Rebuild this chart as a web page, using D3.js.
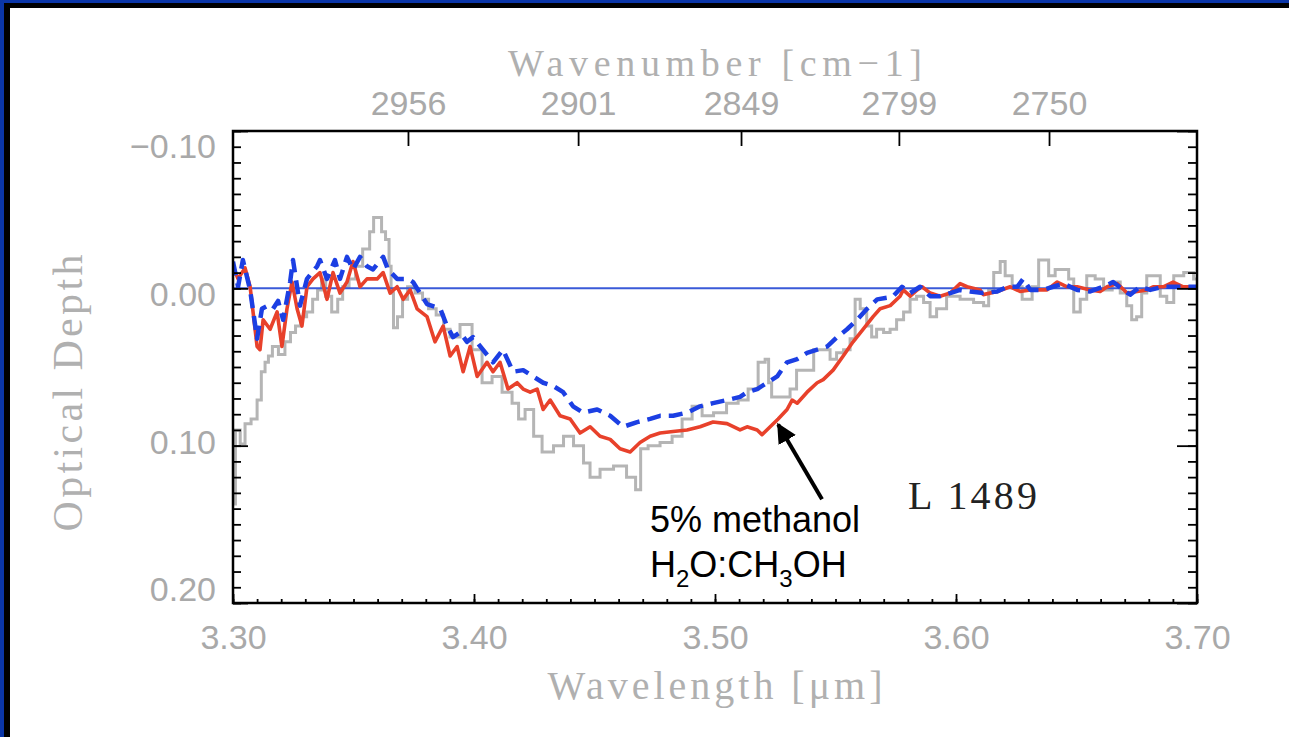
<!DOCTYPE html>
<html>
<head>
<meta charset="utf-8">
<script src="https://cdn.jsdelivr.net/npm/d3@7"></script>
<style>
  html, body { margin: 0; padding: 0; background: #fff; }
  svg { display: block; }
</style>
</head>
<body>
<div id="chart"></div>
<script>
// Observed L 1489 spectrum (grey histogram): wavelength [um], optical depth
const observed = [
  [3.3000, 0.137], [3.3020, 0.090], [3.3040, 0.099], [3.3060, 0.086], [3.3090, 0.083],
  [3.3110, 0.071], [3.3125, 0.053], [3.3141, 0.047], [3.3153, 0.043], [3.3174, 0.037],
  [3.3203, 0.042], [3.3228, 0.034], [3.3249, 0.028], [3.3270, 0.024], [3.3291, 0.018],
  [3.3320, 0.015], [3.3341, 0.007], [3.3361, 0.001], [3.3374, -0.006], [3.3395, 0.005],
  [3.3424, 0.015], [3.3445, 0.007], [3.3465, -0.001], [3.3498, -0.006], [3.3519, -0.014],
  [3.3557, -0.025], [3.3577, -0.036], [3.3590, -0.045], [3.3610, -0.045], [3.3623, -0.036],
  [3.3643, -0.031], [3.3652, -0.014], [3.3660, 0.003], [3.3672, 0.025], [3.3693, 0.018],
  [3.3714, 0.007], [3.3735, -0.001], [3.3776, 0.003], [3.3797, 0.007], [3.3826, 0.013],
  [3.3860, 0.017], [3.3888, 0.026], [3.3913, 0.031], [3.3971, 0.023], [3.4013, 0.039],
  [3.4054, 0.060], [3.4096, 0.056], [3.4137, 0.066], [3.4179, 0.073], [3.4191, 0.083],
  [3.4233, 0.077], [3.4262, 0.094], [3.4303, 0.104], [3.4357, 0.100], [3.4386, 0.094],
  [3.4440, 0.100], [3.4469, 0.111], [3.4494, 0.120], [3.4552, 0.115], [3.4606, 0.113],
  [3.4660, 0.120], [3.4681, 0.128], [3.4702, 0.102], [3.4743, 0.100], [3.4801, 0.098],
  [3.4843, 0.094], [3.4884, 0.083], [3.4926, 0.075], [3.4967, 0.081], [3.5021, 0.079],
  [3.5075, 0.073], [3.5117, 0.071], [3.5158, 0.064], [3.5200, 0.047], [3.5216, 0.045],
  [3.5229, 0.060], [3.5241, 0.069], [3.5299, 0.069], [3.5324, 0.064], [3.5353, 0.052],
  [3.5395, 0.052], [3.5424, 0.039], [3.5465, 0.039], [3.5490, 0.045], [3.5519, 0.041],
  [3.5548, 0.039], [3.5573, 0.032], [3.5590, 0.007], [3.5615, 0.013], [3.5644, 0.024],
  [3.5656, 0.031], [3.5685, 0.026], [3.5714, 0.028], [3.5739, 0.026], [3.5768, 0.020],
  [3.5797, 0.015], [3.5822, 0.007], [3.5851, 0.005], [3.5880, 0.009], [3.5905, 0.018],
  [3.5934, 0.013], [3.5988, 0.005], [3.6046, 0.007], [3.6100, 0.009], [3.6129, 0.011],
  [3.6142, 0.001], [3.6171, -0.010], [3.6196, -0.017], [3.6212, -0.008], [3.6254, -0.001],
  [3.6295, 0.007], [3.6337, -0.001], [3.6349, -0.018], [3.6378, -0.018], [3.6391, -0.008],
  [3.6432, -0.012], [3.6461, -0.012], [3.6474, -0.006], [3.6503, 0.015], [3.6528, 0.007],
  [3.6557, -0.008], [3.6598, -0.006], [3.6627, 0.001], [3.6669, -0.004], [3.6694, 0.003],
  [3.6723, 0.011], [3.6735, 0.020], [3.6764, 0.018], [3.6777, 0.003], [3.6806, -0.008],
  [3.6835, -0.008], [3.6860, 0.005], [3.6889, 0.009], [3.6918, -0.008], [3.6972, -0.010],
  [3.7000, -0.006]
];

// 5% methanol H2O:CH3OH model (red)
const methanolModel = [
  [3.3000, -0.014], [3.3021, -0.006], [3.3050, -0.013], [3.3071, -0.001], [3.3100, 0.037],
  [3.3112, 0.039], [3.3125, 0.020], [3.3154, 0.026], [3.3183, 0.015], [3.3203, 0.037],
  [3.3224, 0.013], [3.3245, -0.004], [3.3266, 0.013], [3.3286, 0.024], [3.3307, -0.001],
  [3.3332, -0.006], [3.3361, -0.010], [3.3390, 0.007], [3.3415, -0.010], [3.3444, 0.003],
  [3.3473, -0.004], [3.3498, -0.017], [3.3527, -0.001], [3.3556, -0.006], [3.3598, -0.006],
  [3.3623, -0.010], [3.3652, 0.003], [3.3681, -0.001], [3.3706, 0.007], [3.3735, 0.001],
  [3.3764, 0.013], [3.3805, 0.018], [3.3838, 0.034], [3.3872, 0.024], [3.3901, 0.043],
  [3.3930, 0.037], [3.3955, 0.053], [3.3984, 0.037], [3.4013, 0.056], [3.4054, 0.047],
  [3.4079, 0.053], [3.4108, 0.047], [3.4141, 0.064], [3.4179, 0.060], [3.4204, 0.064],
  [3.4233, 0.066], [3.4262, 0.064], [3.4287, 0.077], [3.4316, 0.071], [3.4357, 0.081],
  [3.4399, 0.083], [3.4440, 0.092], [3.4482, 0.088], [3.4523, 0.094], [3.4565, 0.096],
  [3.4606, 0.102], [3.4648, 0.104], [3.4689, 0.098], [3.4731, 0.094], [3.4772, 0.092],
  [3.4826, 0.091], [3.4884, 0.090], [3.4938, 0.088], [3.4992, 0.085], [3.5050, 0.086],
  [3.5104, 0.090], [3.5133, 0.088], [3.5175, 0.090], [3.5195, 0.093], [3.5229, 0.088],
  [3.5262, 0.083], [3.5299, 0.077], [3.5320, 0.071], [3.5341, 0.073], [3.5382, 0.066],
  [3.5424, 0.060], [3.5449, 0.058], [3.5490, 0.052], [3.5532, 0.043], [3.5573, 0.034],
  [3.5615, 0.026], [3.5656, 0.018], [3.5685, 0.013], [3.5727, 0.011], [3.5768, 0.005],
  [3.5781, 0.001], [3.5810, 0.005], [3.5839, 0.001], [3.5859, -0.001], [3.5893, 0.003],
  [3.5934, 0.005], [3.5976, 0.003], [3.6017, -0.003], [3.6046, -0.001], [3.6100, 0.001],
  [3.6113, 0.004], [3.6171, 0.002], [3.6225, -0.001], [3.6266, 0.002], [3.6308, 0.001],
  [3.6378, 0.001], [3.6420, -0.004], [3.6461, -0.001], [3.6503, -0.001], [3.6557, 0.001],
  [3.6598, 0.002], [3.6627, -0.001], [3.6669, -0.003], [3.6710, 0.003], [3.6752, 0.002],
  [3.6793, 0.001], [3.6818, -0.001], [3.6860, -0.001], [3.6901, -0.004], [3.6943, -0.001],
  [3.6984, -0.001], [3.7000, 0.000]
];

// second model (blue dashed)
const dashedModel = [
  [3.3000, -0.017], [3.3021, -0.001], [3.3041, -0.018], [3.3071, 0.001], [3.3100, 0.032],
  [3.3120, 0.013], [3.3145, 0.011], [3.3166, 0.013], [3.3187, 0.008], [3.3208, 0.020],
  [3.3237, -0.004], [3.3249, -0.018], [3.3278, 0.011], [3.3307, -0.006], [3.3349, -0.014],
  [3.3361, -0.018], [3.3390, -0.006], [3.3423, -0.018], [3.3444, -0.006], [3.3473, -0.020],
  [3.3498, -0.012], [3.3527, -0.020], [3.3556, -0.014], [3.3581, -0.012], [3.3623, -0.020],
  [3.3643, -0.012], [3.3681, -0.006], [3.3726, -0.006], [3.3747, -0.004], [3.3776, 0.003],
  [3.3805, 0.010], [3.3860, 0.013], [3.3888, 0.024], [3.3913, 0.031], [3.3942, 0.028],
  [3.3971, 0.034], [3.3996, 0.031], [3.4037, 0.039], [3.4079, 0.047], [3.4120, 0.039],
  [3.4162, 0.053], [3.4204, 0.052], [3.4245, 0.056], [3.4287, 0.060], [3.4328, 0.062],
  [3.4370, 0.066], [3.4411, 0.075], [3.4453, 0.079], [3.4511, 0.077], [3.4565, 0.081],
  [3.4619, 0.088], [3.4677, 0.085], [3.4731, 0.083], [3.4772, 0.081], [3.4826, 0.081],
  [3.4884, 0.079], [3.4938, 0.075], [3.4992, 0.073], [3.5050, 0.071], [3.5104, 0.069],
  [3.5133, 0.066], [3.5175, 0.064], [3.5216, 0.060], [3.5258, 0.056], [3.5299, 0.047],
  [3.5341, 0.045], [3.5382, 0.041], [3.5424, 0.039], [3.5465, 0.037], [3.5507, 0.031],
  [3.5548, 0.026], [3.5590, 0.020], [3.5631, 0.013], [3.5673, 0.007], [3.5714, 0.006],
  [3.5739, 0.005], [3.5776, -0.001], [3.5810, 0.003], [3.5851, -0.001], [3.5893, 0.005],
  [3.5934, 0.005], [3.5976, 0.003], [3.6017, 0.001], [3.6059, 0.002], [3.6113, 0.003],
  [3.6171, 0.002], [3.6212, -0.001], [3.6254, -0.001], [3.6279, -0.006], [3.6308, 0.001],
  [3.6362, 0.001], [3.6403, -0.001], [3.6445, -0.003], [3.6503, 0.001], [3.6557, 0.002],
  [3.6611, -0.001], [3.6652, -0.004], [3.6694, 0.001], [3.6723, 0.004], [3.6764, -0.001],
  [3.6806, 0.001], [3.6860, -0.001], [3.6918, -0.001], [3.6972, -0.001], [3.7000, -0.001]
];

const xDomain = [3.30, 3.70];
const yDomain = [-0.10, 0.20];
const xTicks = [3.30, 3.40, 3.50, 3.60, 3.70];
const yTicks = [-0.10, 0.00, 0.10, 0.20];
const topTickLabels = ['2956', '2901', '2849', '2799', '2750'];
const topTickWavelengths = [3.3726, 3.4432, 3.5108, 3.5763, 3.6386];

function drawChart() {
    const width = 1289;
    const height = 737;
    const plot = { left: 233, right: 1197, top: 131, bottom: 603 };

    const svg = d3.select('#chart')
        .append('svg')
        .attr('width', width)
        .attr('height', height);

    // slide frame: blue edge, black edge, white page
    svg.append('rect').attr('width', width).attr('height', height).attr('fill', '#0b36a8');
    svg.append('rect').attr('x', 4).attr('y', 3).attr('width', width).attr('height', height).attr('fill', '#000');
    svg.append('rect').attr('x', 10).attr('y', 8).attr('width', width).attr('height', height).attr('fill', '#fff');

    const x = d3.scaleLinear().domain(xDomain).range([plot.left, plot.right]);
    const y = d3.scaleLinear().domain(yDomain).range([plot.top, plot.bottom]);

    svg.append('clipPath').attr('id', 'plot-clip')
        .append('rect')
        .attr('x', plot.left).attr('y', plot.top)
        .attr('width', plot.right - plot.left).attr('height', plot.bottom - plot.top);

    const lines = svg.append('g').attr('clip-path', 'url(#plot-clip)');

    const line = d3.line().x(d => x(d[0])).y(d => y(d[1]));
    const stepLine = d3.line().x(d => x(d[0])).y(d => y(d[1])).curve(d3.curveStep);

    lines.append('path')
        .attr('d', stepLine(observed))
        .attr('fill', 'none')
        .attr('stroke', '#b5b5b5')
        .attr('stroke-width', 3);

    // zero level
    lines.append('line')
        .attr('x1', x(xDomain[0])).attr('x2', x(xDomain[1]))
        .attr('y1', y(0)).attr('y2', y(0))
        .attr('stroke', '#3a5ad8')
        .attr('stroke-width', 2);

    lines.append('path')
        .attr('d', line(methanolModel))
        .attr('fill', 'none')
        .attr('stroke', '#e8412b')
        .attr('stroke-width', 3.6)
        .attr('stroke-linejoin', 'round');

    lines.append('path')
        .attr('d', line(dashedModel))
        .attr('fill', 'none')
        .attr('stroke', '#1c3fe3')
        .attr('stroke-width', 4.5)
        .attr('stroke-dasharray', '14,8')
        .attr('stroke-linejoin', 'round');

    // ticks (pointing inward)
    const tickStyle = g => {
        g.select('.domain').remove();
        g.selectAll('.tick line').attr('stroke', '#000').attr('stroke-width', 1.8);
    };
    const xMinor = d3.range(330, 371).map(d => d / 100);
    const yMinor = d3.range(-10, 21).map(d => d / 100);

    svg.append('g').attr('transform', `translate(0,${plot.bottom})`)
        .call(d3.axisBottom(x).tickValues(xMinor).tickSize(-4).tickFormat(''))
        .call(tickStyle);
    svg.append('g').attr('transform', `translate(0,${plot.bottom})`)
        .call(d3.axisBottom(x).tickValues(xTicks).tickSize(-9).tickFormat(''))
        .call(tickStyle);

    svg.append('g').attr('transform', `translate(${plot.left},0)`)
        .call(d3.axisLeft(y).tickValues(yMinor).tickSize(-8).tickFormat(''))
        .call(tickStyle);
    svg.append('g').attr('transform', `translate(${plot.left},0)`)
        .call(d3.axisLeft(y).tickValues(yTicks).tickSize(-15).tickFormat(''))
        .call(tickStyle);

    svg.append('g').attr('transform', `translate(${plot.right},0)`)
        .call(d3.axisRight(y).tickValues(yMinor).tickSize(-9).tickFormat(''))
        .call(tickStyle);
    svg.append('g').attr('transform', `translate(${plot.right},0)`)
        .call(d3.axisRight(y).tickValues(yTicks).tickSize(-20).tickFormat(''))
        .call(tickStyle);

    // top wavenumber axis
    svg.append('g').attr('transform', `translate(0,${plot.top})`)
        .call(d3.axisTop(x)
            .tickValues(topTickWavelengths)
            .tickSize(-15)
            .tickPadding(16)
            .tickFormat((d, i) => topTickLabels[i]))
        .call(tickStyle);

    // plot box
    svg.append('rect')
        .attr('x', plot.left).attr('y', plot.top)
        .attr('width', plot.right - plot.left).attr('height', plot.bottom - plot.top)
        .attr('fill', 'none')
        .attr('stroke', '#000')
        .attr('stroke-width', 2.5);

    // tick labels
    svg.append('g').attr('transform', `translate(0,${plot.bottom})`)
        .call(d3.axisBottom(x).tickValues(xTicks).tickSize(0).tickPadding(22).tickFormat(d3.format('.2f')))
        .call(g => g.select('.domain').remove());

    const yLabel = y.copy().range([plot.top + 16, plot.bottom - 13]);
    svg.append('g').attr('transform', `translate(${plot.left - 17},0)`)
        .call(d3.axisLeft(yLabel).tickValues(yTicks).tickSize(0).tickPadding(0).tickFormat(d3.format('.2f')))
        .call(g => g.select('.domain').remove());

    svg.selectAll('.tick text')
        .attr('fill', '#a9a9a9')
        .style('font-family', '"Liberation Sans", Arial, sans-serif')
        .style('font-size', '34px');

    // axis titles
    const titleFont = '"Liberation Serif", "DejaVu Serif", serif';
    svg.append('text')
        .attr('x', (plot.left + plot.right) / 2)
        .attr('y', 699)
        .attr('text-anchor', 'middle')
        .attr('textLength', 335)
        .attr('lengthAdjust', 'spacing')
        .attr('fill', '#b0b0b0')
        .style('font-family', titleFont)
        .style('font-size', '40px')
        .text('Wavelength [\u03bcm]');

    svg.append('text')
        .attr('x', (plot.left + plot.right) / 2)
        .attr('y', 76)
        .attr('text-anchor', 'middle')
        .attr('textLength', 414)
        .attr('lengthAdjust', 'spacing')
        .attr('fill', '#b0b0b0')
        .style('font-family', titleFont)
        .style('font-size', '38px')
        .text('Wavenumber [cm\u22121]');

    svg.append('text')
        .attr('transform', `translate(82,${(plot.top + plot.bottom) / 2 + 26}) rotate(-90)`)
        .attr('text-anchor', 'middle')
        .attr('textLength', 277)
        .attr('lengthAdjust', 'spacing')
        .attr('fill', '#b0b0b0')
        .style('font-family', titleFont)
        .style('font-size', '42px')
        .text('Optical Depth');

    // annotations
    svg.append('defs').append('marker')
        .attr('id', 'arrow-head')
        .attr('viewBox', '0 0 10 10')
        .attr('refX', 9).attr('refY', 5)
        .attr('markerWidth', 5).attr('markerHeight', 5)
        .attr('markerUnits', 'strokeWidth')
        .attr('orient', 'auto')
        .append('path')
        .attr('d', 'M0,0 L10,5 L0,10 z')
        .attr('fill', '#000');

    svg.append('line')
        .attr('x1', x(3.5444)).attr('y1', y(0.134))
        .attr('x2', x(3.5262)).attr('y2', y(0.0865))
        .attr('stroke', '#000')
        .attr('stroke-width', 4)
        .attr('marker-end', 'url(#arrow-head)');

    const note = svg.append('g')
        .style('font-family', 'Arial, "Liberation Sans", sans-serif')
        .style('font-size', '36px')
        .attr('fill', '#000');
    note.append('text')
        .attr('x', x(3.4730)).attr('y', y(0.1546))
        .text('5% methanol');
    const formula = note.append('text')
        .attr('x', x(3.4730)).attr('y', y(0.1832));
    formula.append('tspan').text('H');
    formula.append('tspan').attr('dy', 10).style('font-size', '24px').text('2');
    formula.append('tspan').attr('dy', -10).text('O:CH');
    formula.append('tspan').attr('dy', 10).style('font-size', '24px').text('3');
    formula.append('tspan').attr('dy', -10).text('OH');

    svg.append('text')
        .attr('x', x(3.5801)).attr('y', y(0.140))
        .attr('textLength', 129)
        .attr('lengthAdjust', 'spacing')
        .attr('fill', '#222')
        .style('font-family', titleFont)
        .style('font-size', '40px')
        .text('L 1489');
}

document.addEventListener('DOMContentLoaded', () => {
    drawChart();
});
</script>
</body>
</html>
